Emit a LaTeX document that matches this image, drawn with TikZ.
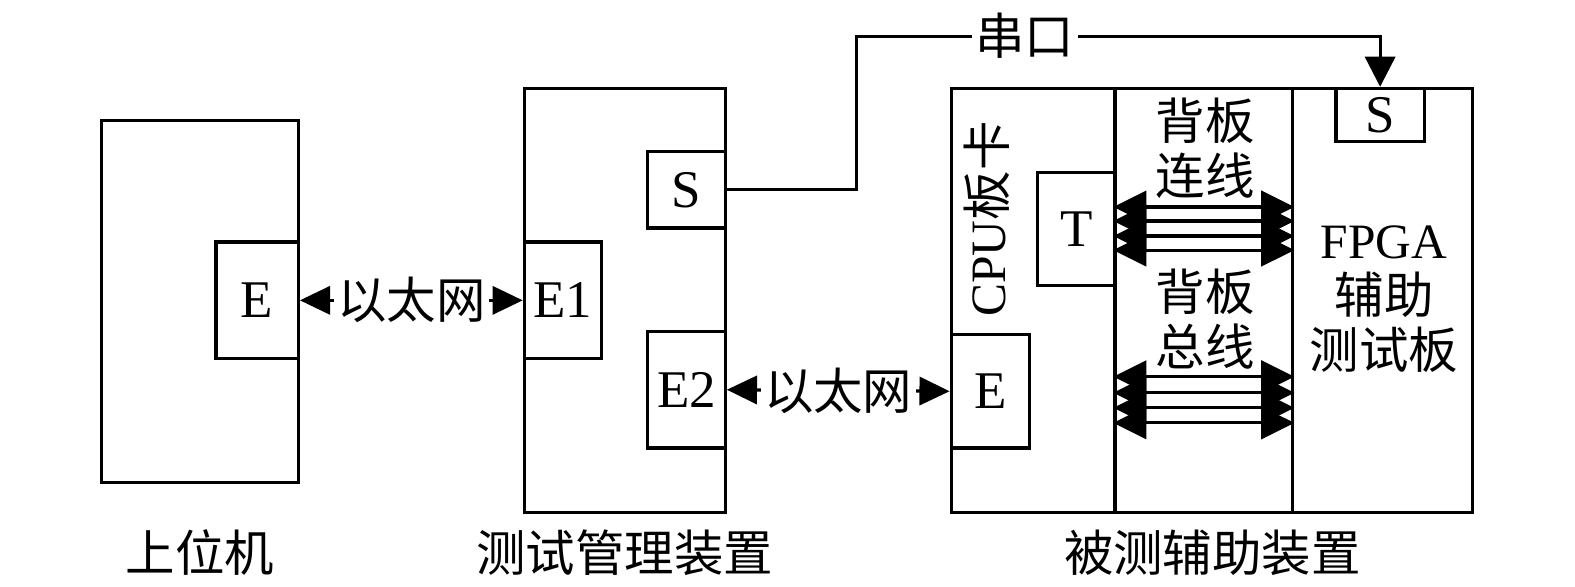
\documentclass[tikz,border=0pt]{standalone}
\usepackage{fontspec}
\setmainfont{Liberation Serif}
\newfontfamily\cjk{Noto Sans CJK SC}
\usetikzlibrary{arrows.meta}

\begin{document}
\begin{tikzpicture}[x=0.01cm, y=-0.01cm, line width=0.9pt,
    font=\fontsize{15pt}{15.6pt}\selectfont,
    box/.style={draw, inner sep=0pt},
    port/.style={draw, inner sep=0pt, minimum width=0.77cm, minimum height=1.16cm},
    lbl/.style={fill=white, inner sep=1pt, font=\fontsize{14pt}{15.6pt}\selectfont\cjk},
    tip/.style={{Triangle[length=0.3cm,width=0.28cm]}-{Triangle[length=0.3cm,width=0.28cm]}},
    bustip/.style={{Triangle[length=0.33cm,width=0.32cm]}-{Triangle[length=0.33cm,width=0.32cm]}}]
  \useasboundingbox (0,0) rectangle (1568,584);

  % outer boxes
  \node[box, minimum width=1.96cm, minimum height=3.6cm] (pc) at (199,300) {};
  \node[box, minimum width=2.0cm, minimum height=4.22cm] (mgr) at (622,299) {};
  \node[box, minimum width=1.63cm, minimum height=4.22cm] (cpu) at (1028.5,299) {};
  \node[box, minimum width=1.77cm, minimum height=4.22cm] (bp) at (1198.5,299) {};
  \node[box, minimum width=1.79cm, minimum height=4.22cm] (fpga) at (1376.5,299) {};

  % ports
  \node[port, minimum width=0.82cm] (pcE) at (256,299) {E};
  \node[port, minimum height=0.76cm] (mgrS) at (683.5,189) {S};
  \node[port] (mgrE1) at (560.5,299) {E1};
  \node[port] (mgrE2) at (683.5,388) {E2};
  \node[port, minimum width=0.78cm, minimum height=1.13cm] (cpuE) at (986,389.5) {E};
  \node[port, minimum height=1.12cm] (cpuT) at (1071.5,228) {T};
  \node[port, minimum width=0.88cm, minimum height=0.53cm] (fpgaS) at (1374,114.5) {S};

  % texts
  \node[rotate=90, font=\fontsize{14pt}{15.6pt}\selectfont] (cpuname) at (982,218) {CPU{\cjk 板卡}};
  \node[align=center, font=\fontsize{14pt}{15.6pt}\selectfont\cjk] (bpwire) at (1200,148) {背板\\连线};
  \node[align=center, font=\fontsize{14pt}{15.6pt}\selectfont\cjk] (bpbus) at (1200,318) {背板\\总线};
  \node[align=center, font=\fontsize{14pt}{15.6pt}\selectfont] (fpganame) at (1378,298) {FPGA\\{\cjk 辅助}\\{\cjk 测试板}};
  \node[lbl] (pcname) at (199,550) {上位机};
  \node[lbl] (mgrname) at (622,550) {测试管理装置};
  \node[lbl] (dutname) at (1207,550) {被测辅助装置};

  % links
  \draw[tip] (pcE.east) -- node[lbl] {以太网} (mgrE1.west);
  \draw[tip] (mgrE2.east) -- node[lbl] {以太网} (cpuE.west);
  \coordinate (bend) at (853,36);
  \draw[-{Triangle[length=0.3cm,width=0.3cm]}] (mgrS.east) -| (bend) -| (fpgaS.north);
  \node[lbl] (serial) at (1020,36) {串口};

  % backplane lines
  \foreach \y in {206,220,235,249,375,391,406,421}
    \draw[bustip] (bp.west |- 0,\y) -- (bp.east |- 0,\y);
\end{tikzpicture}
\end{document}
